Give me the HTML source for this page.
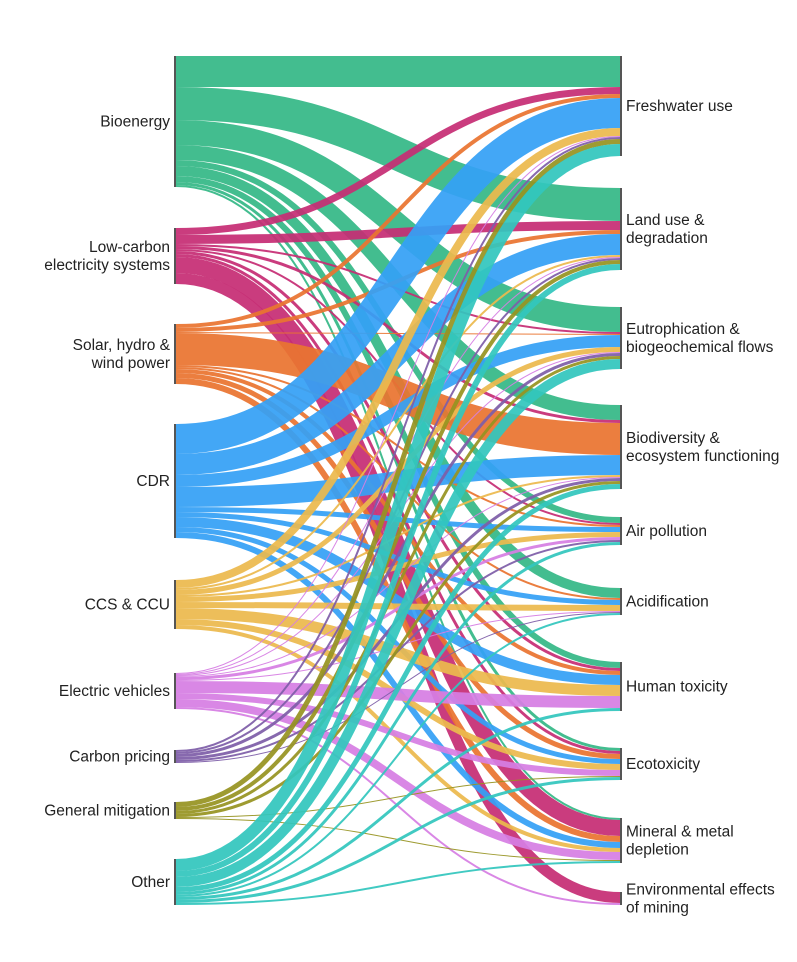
<!DOCTYPE html>
<html><head><meta charset="utf-8"><style>
html,body{margin:0;padding:0;background:#fff;}
svg{display:block;font-family:"Liberation Sans",Arial,sans-serif;}
text{font-size:15.5px;fill:#222;}
</style></head><body>
<svg id="s" width="797" height="962" xmlns="http://www.w3.org/2000/svg"></svg>
<script>
var L=[["Bioenergy",56,"#35b887",["Bioenergy"]],["Low-carbon",228,"#c62d74",["Low-carbon","electricity systems"]],["Solar",324,"#ea7430",["Solar, hydro &","wind power"]],["CDR",424,"#35a0f5",["CDR"]],["CCS",580,"#ecb94e",["CCS & CCU"]],["EV",673,"#d67ee3",["Electric vehicles"]],["CP",750,"#7e5ea8",["Carbon pricing"]],["GM",802,"#979321",["General mitigation"]],["Other",859,"#33c6bd",["Other"]]];
var R=[[56,["Freshwater use"]],[188,["Land use &","degradation"]],[307,["Eutrophication &","biogeochemical flows"]],[405,["Biodiversity &","ecosystem functioning"]],[517,["Air pollution"]],[588,["Acidification"]],[662,["Human toxicity"]],[748,["Ecotoxicity"]],[818,["Mineral & metal","depletion"]],[892,["Environmental effects","of mining"]]];
var F=[
[31,33,25,15,6,10,6,3,2,0],
[7,9,2,3,2,0,3,3,16,11],
[4,4,1,32,2,2,4,5,6,0],
[30,21,12,20,5,5,10,5,6,0],
[8,2,5,2,5,6,11,6,4,0],
[1,1,1,1,3,1,12,6,8,2],
[2,2,3,3,2,1,0,0,0,0],
[5,4,3,3,0,0,0,1,1,0],
[12,6,10,5,3,2,3,3,2,0]];
var s=document.getElementById('s'),x0=176,x1=620,h='';
var so=L.map(function(n){return n[1]}),to=R.map(function(n){return n[0]});
var links=[];
for(var i=0;i<L.length;i++)for(var j=0;j<R.length;j++){var w=F[i][j];if(!w)continue;links.push([i,j,w]);}
var sy={},ty={};
for(var i=0;i<L.length;i++){var y=so[i];for(var j=0;j<R.length;j++){if(F[i][j]){sy[i+','+j]=y+F[i][j]/2;y+=F[i][j];}}L[i].push(y);}
for(var j=0;j<R.length;j++){var y=to[j];for(var i=0;i<L.length;i++){if(F[i][j]){ty[i+','+j]=y+F[i][j]/2;y+=F[i][j];}}R[j].push(y);}
links.forEach(function(l){var k=l[0]+','+l[1],a=sy[k],b=ty[k],m=(x0+x1)/2;
h+='<path d="M'+x0+' '+a+'C'+m+' '+a+' '+m+' '+b+' '+x1+' '+b+'" stroke="'+L[l[0]][2]+'" stroke-width="'+l[2]+'" fill="none" stroke-opacity="0.93"/>';});
L.forEach(function(n){var t=n[1],b=n[4];h+='<rect x="174" y="'+t+'" width="2" height="'+(b-t)+'" fill="#555"/>';
var c=(t+b)/2,ln=n[3],y0=c-(ln.length-1)*9+5;ln.forEach(function(q,k){h+='<text x="170" y="'+(y0+k*18)+'" text-anchor="end">'+q.replace('&','&amp;')+'</text>';});});
R.forEach(function(n){var t=n[0],b=n[2];h+='<rect x="620" y="'+t+'" width="2" height="'+(b-t)+'" fill="#555"/>';
var c=(t+b)/2,ln=n[1],y0=c-(ln.length-1)*9+5;ln.forEach(function(q,k){h+='<text x="626" y="'+(y0+k*18)+'">'+q.replace('&','&amp;')+'</text>';});});
s.innerHTML=h;
</script>
</body></html>
